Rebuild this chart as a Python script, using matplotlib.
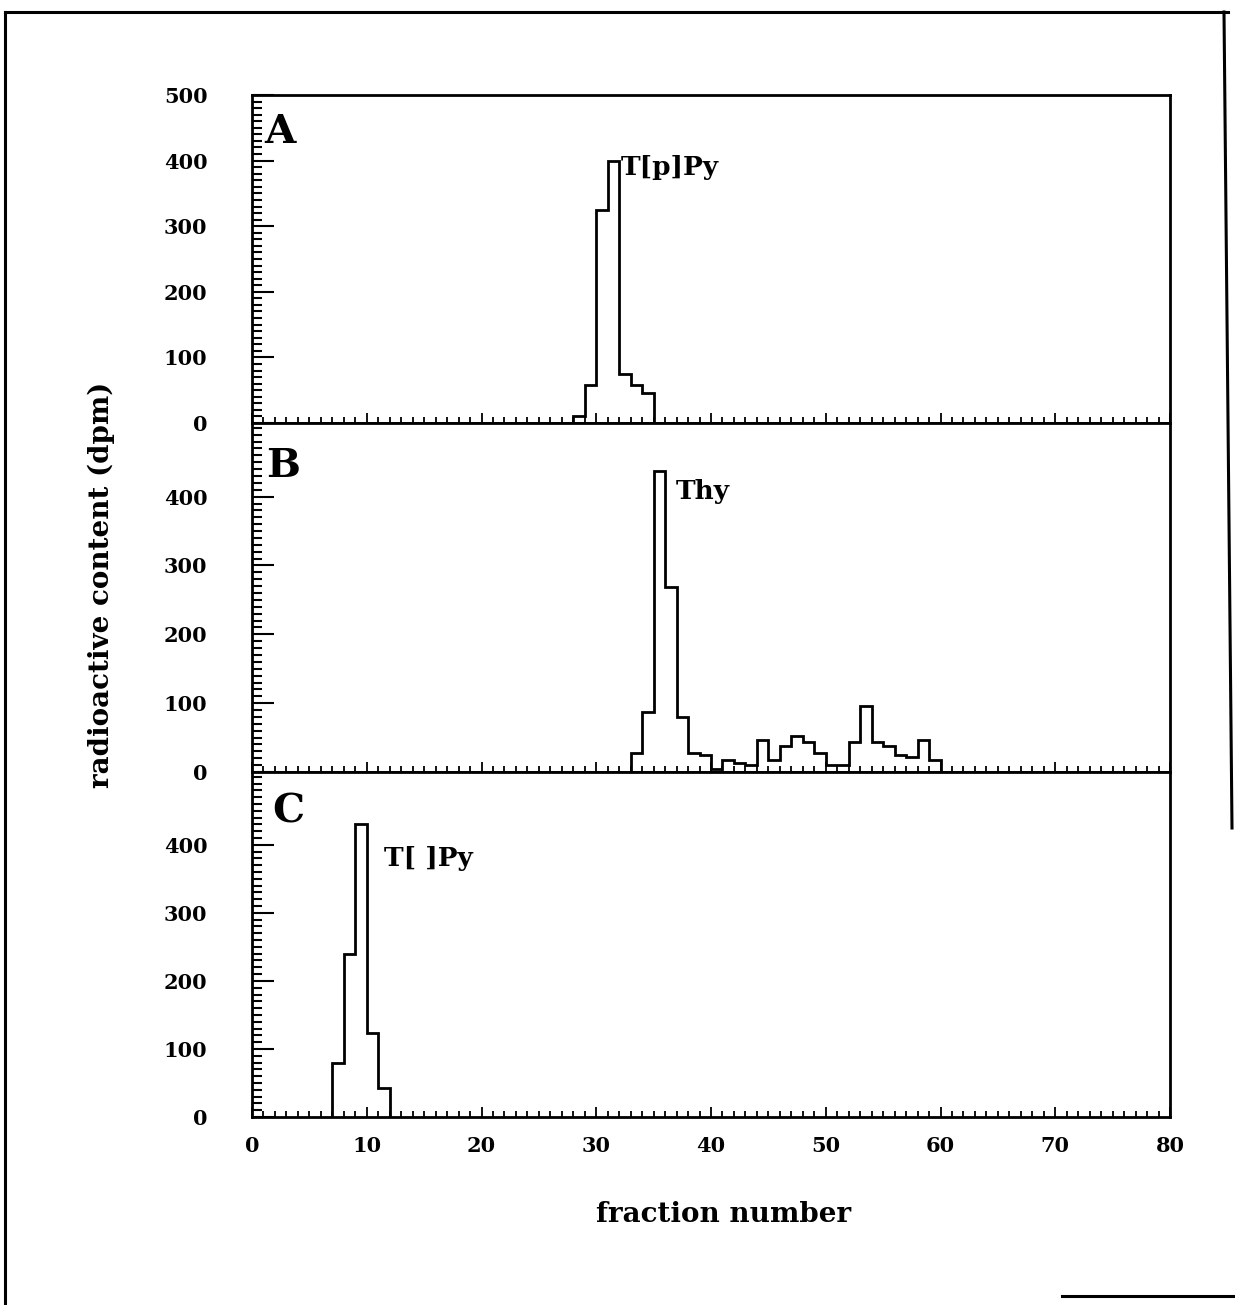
import numpy as np
import matplotlib.pyplot as plt
from matplotlib.ticker import MultipleLocator, NullFormatter
from matplotlib.lines import Line2D

# fraction numbers (left bin edges) and counts for each run
frac_a = [28, 29, 30, 31, 32, 33, 34]
dpm_a = [10, 58, 325, 400, 75, 58, 45]

frac_b = list(range(33, 60))
dpm_b = [27, 87, 437, 269, 80, 27, 24, 5, 18, 13,
         10, 47, 17, 38, 53, 43, 27, 10, 10, 43,
         96, 43, 38, 24, 22, 47, 17]

frac_c = [7, 8, 9, 10, 11]
dpm_c = [80, 240, 430, 124, 42]

panel_names = ['A', 'B', 'C']
peak_names = ['T[p]Py', 'Thy', 'T[ ]Py']
peak_pos = [(32.1, 390), (36.9, 407), (11.5, 380)]
x_ticks = [0, 10, 20, 30, 40, 50, 60, 70, 80]

W, H = 1235, 1305
fig = plt.figure(figsize=(W / 100, H / 100), dpi=100)
plt.rcParams['font.family'] = ['DejaVu Serif']
plt.rcParams['font.weight'] = 'bold'

# panel boxes in pixels: (top, bottom, ymax, top labelled tick)
left_px, right_px = 252, 1170
boxes = [(95, 423, 500, 500), (423, 772, 507, 400), (772, 1117, 507, 400)]
data = [(frac_a, dpm_a), (frac_b, dpm_b), (frac_c, dpm_c)]
letter_off = [(0.013, 0.945), (0.015, 0.932), (0.022, 0.94)]

for k in range(3):
    top, bot, ymax, ytop = boxes[k]
    ax = fig.add_axes([left_px / W, 1 - bot / H, (right_px - left_px) / W, (bot - top) / H])
    fr, vals = data[k]
    edges = list(fr) + [fr[-1] + 1]
    ax.stairs(vals, edges, baseline=0, color='black', lw=2.0)

    ax.set_xlim(0, 80)
    ax.set_ylim(0, ymax)
    ax.set_xticks(x_ticks)
    ax.xaxis.set_minor_locator(MultipleLocator(1))
    ax.set_yticks(np.arange(0, ytop + 1, 100))
    ax.yaxis.set_minor_locator(MultipleLocator(10))
    ax.tick_params(axis='y', which='major', direction='in', length=16, width=1.5,
                   pad=32, labelsize=15)
    ax.tick_params(axis='y', which='minor', direction='in', length=7, width=1.5)
    ax.tick_params(axis='x', which='major', direction='in', length=7, width=1.3,
                   pad=14, labelsize=15)
    ax.tick_params(axis='x', which='minor', direction='in', length=4, width=1.3)
    ax.tick_params(top=False, right=False)
    if k < 2:
        ax.xaxis.set_major_formatter(NullFormatter())
    for s in ax.spines.values():
        s.set_linewidth(2.0)

    ax.text(letter_off[k][0], letter_off[k][1], panel_names[k], transform=ax.transAxes,
            fontsize=29, fontweight='bold', va='top', ha='left')
    ax.text(peak_pos[k][0], peak_pos[k][1], peak_names[k], fontsize=19,
            fontweight='bold', va='center', ha='left')

fig.text(724 / W, 1 - 1215 / H, 'fraction number', fontsize=20, fontweight='bold',
         ha='center', va='center')
fig.text(101 / W, 1 - 585 / H, 'radioactive content (dpm)', fontsize=20,
         fontweight='bold', ha='center', va='center', rotation=90)

# page border
def px_line(x0, y0, x1, y1):
    fig.add_artist(Line2D([x0 / W, x1 / W], [1 - y0 / H, 1 - y1 / H],
                          color='black', lw=2.2, transform=fig.transFigure))

px_line(5, 12, 1228, 12)
px_line(5, 12, 5, H)
px_line(1224, 12, 1232, 828)
px_line(1062, 1296, W, 1296)

fig.savefig('out.png', dpi=100)
